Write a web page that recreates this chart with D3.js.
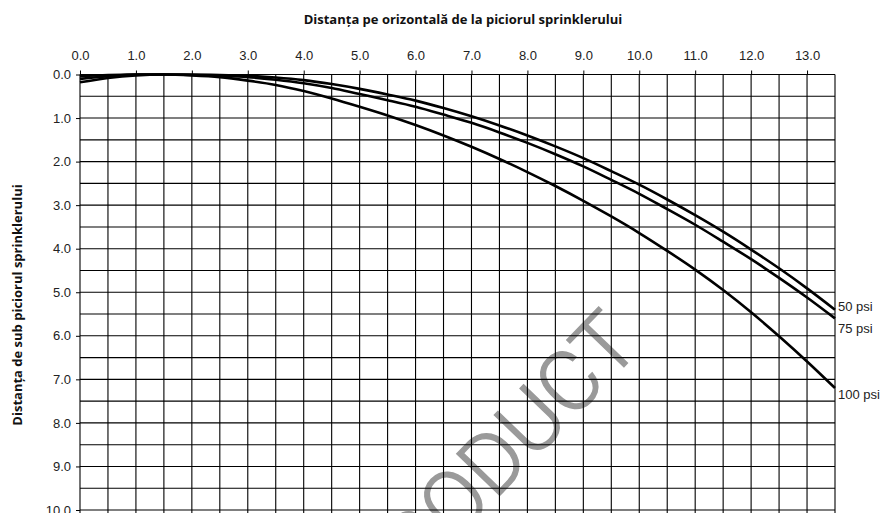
<!DOCTYPE html>
<html>
<head>
<meta charset="utf-8">
<script src="https://cdn.jsdelivr.net/npm/d3@7"></script>
<style>
    body { margin: 0; background: #fff; }
    svg { display: block; }
</style>
</head>
<body>
<div id="chart"></div>
<script>
// horizontal distance from sprinkler (x), drop below deflector (y)
const distances = [0, 0.5, 1, 1.5, 2, 2.5, 3, 3.5, 4, 4.5, 5, 5.5, 6, 6.5, 7,
                   7.5, 8, 8.5, 9, 9.5, 10, 10.5, 11, 11.5, 12, 12.5, 13, 13.5];

const drop50 = [0.04, 0.01, 0.0, 0.0, 0.0, 0.01, 0.03, 0.07, 0.13, 0.22, 0.33, 0.46, 0.60, 0.77,
                0.96, 1.17, 1.40, 1.65, 1.92, 2.22, 2.53, 2.87, 3.23, 3.61, 4.02, 4.45, 4.91, 5.40];
const drop75 = [0.10, 0.04, 0.0, 0.0, 0.01, 0.03, 0.06, 0.12, 0.20, 0.31, 0.45, 0.59, 0.74, 0.92,
                1.11, 1.33, 1.57, 1.83, 2.11, 2.42, 2.74, 3.09, 3.45, 3.84, 4.24, 4.67, 5.12, 5.60];
const drop100 = [0.18, 0.08, 0.02, 0.0, 0.02, 0.06, 0.14, 0.24, 0.38, 0.55, 0.74, 0.94, 1.16, 1.40,
                 1.66, 1.94, 2.24, 2.56, 2.90, 3.26, 3.64, 4.05, 4.48, 4.95, 5.46, 6.01, 6.59, 7.20];

const seriesNames = ['50 psi', '75 psi', '100 psi'];
const seriesValues = [drop50, drop75, drop100];

const xTicks = [0, 1, 2, 3, 4, 5, 6, 7, 8, 9, 10, 11, 12, 13];
const yTicks = [0, 1, 2, 3, 4, 5, 6, 7, 8, 9, 10];

const xTitle = 'Distanța pe orizontală de la piciorul sprinklerului';
const yTitle = 'Distanța de sub piciorul sprinklerului';

const w = 891, h = 513;
const margin = {top: 74.5, left: 80, right: 56};

let svg = d3.select('#chart')
    .append('svg')
    .attr('width', w)
    .attr('height', h);

let x = d3.scaleLinear()
    .domain([0, 13.5])
    .range([margin.left, w - margin.right]);

let y = d3.scaleLinear()
    .domain([0, 10])
    .range([margin.top, 510]);

let yBottom = 10.6;

// watermark sits under the grid
svg.append('text')
    .attr('transform', 'translate(643,347) rotate(-46)')
    .attr('text-anchor', 'end')
    .style('font-family', 'Roboto, sans-serif')
    .style('font-weight', 300)
    .style('font-size', '84px')
    .attr('fill', '#9a9a9a')
    .attr('stroke', '#9a9a9a')
    .attr('stroke-width', 1.4)
    .text('PRODUCT');

let grid = svg.append('g')
    .attr('stroke', '#000')
    .attr('stroke-width', 1.1);

grid.selectAll('line.v')
    .data(d3.range(0, 13.51, 0.5))
    .enter().append('line')
    .attr('class', 'v')
    .attr('x1', d => x(d))
    .attr('x2', d => x(d))
    .attr('y1', y(0))
    .attr('y2', y(yBottom));

grid.selectAll('line.h')
    .data(d3.range(0, yBottom, 0.5))
    .enter().append('line')
    .attr('class', 'h')
    .attr('x1', x(0))
    .attr('x2', x(13.5))
    .attr('y1', d => y(d))
    .attr('y2', d => y(d));

let xAxis = svg.append('g')
    .attr('transform', 'translate(0,' + y(0) + ')')
    .call(d3.axisTop(x)
        .tickValues(xTicks)
        .tickFormat(d3.format('.1f'))
        .tickSize(4)
        .tickPadding(11)
    );

let yAxis = svg.append('g')
    .attr('transform', 'translate(' + x(0) + ',0)')
    .call(d3.axisLeft(y)
        .tickValues(yTicks)
        .tickFormat(d3.format('.1f'))
        .tickSize(4)
        .tickPadding(5)
    );

[xAxis, yAxis].forEach(function (ax) {
    ax.select('.domain').remove();
    ax.selectAll('text')
        .style('font-family', '"Liberation Sans", Arial, sans-serif')
        .style('font-size', '13px')
        .attr('fill', '#222');
    ax.selectAll('.tick line').attr('stroke', '#000');
});

let line = d3.line()
    .x(function (d) { return x(d[0]); })
    .y(function (d) { return y(d[1]); })
    .curve(d3.curveMonotoneX);

seriesValues.forEach(function (vals, i) {
    let pts = distances.map((d, j) => [d, vals[j]]);
    svg.append('path')
        .datum(pts)
        .attr('fill', 'none')
        .attr('stroke', '#000')
        .attr('stroke-width', 2.6)
        .attr('stroke-linejoin', 'round')
        .attr('d', line);
});

// series labels right of the plot
let labelY = [306, 328, 394];
seriesNames.forEach(function (name, i) {
    svg.append('text')
        .attr('x', x(13.5) + 3)
        .attr('y', labelY[i])
        .attr('dy', '0.35em')
        .style('font-family', '"Liberation Sans", Arial, sans-serif')
        .style('font-size', '13px')
        .attr('fill', '#222')
        .text(name);
});

svg.append('text')
    .attr('x', 463)
    .attr('y', 24)
    .attr('text-anchor', 'middle')
    .style('font-family', '"Open Sans", sans-serif')
    .style('font-size', '13px')
    .style('font-weight', 'bold')
    .attr('fill', '#111')
    .text(xTitle);

svg.append('text')
    .attr('transform', 'translate(22,305) rotate(-90)')
    .attr('text-anchor', 'middle')
    .style('font-family', '"Open Sans", sans-serif')
    .style('font-size', '13px')
    .style('font-weight', 'bold')
    .attr('fill', '#111')
    .text(yTitle);
</script>
</body>
</html>
